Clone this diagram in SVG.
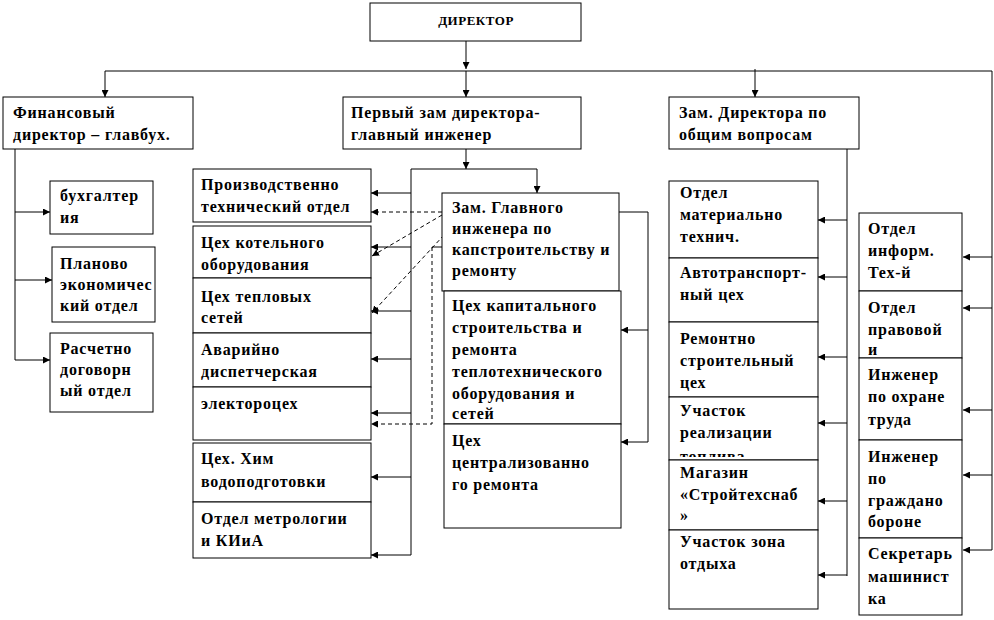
<svg xmlns="http://www.w3.org/2000/svg" width="994" height="620" viewBox="0 0 994 620">
<defs>
<marker id="ar" viewBox="0 0 8 8" refX="8" refY="4" markerWidth="7" markerHeight="7" markerUnits="userSpaceOnUse" orient="auto">
<path d="M0,0 L8,4 L0,8 z" fill="#000"/>
</marker>
<clipPath id="uchclip"><rect x="669" y="397" width="149" height="60"/></clipPath>
<style>
.b{fill:#fff;stroke:#000;stroke-width:1}
.t{font-family:"Liberation Serif","Times New Roman",serif;font-weight:bold;font-size:16px;letter-spacing:0.8px;fill:#000}
.d{font-family:"Liberation Serif","Times New Roman",serif;font-weight:bold;font-size:13px;letter-spacing:0.5px;fill:#000}
.c{fill:none;stroke:#000;stroke-width:1}
.a{fill:none;stroke:#000;stroke-width:1;marker-end:url(#ar)}
.da{fill:none;stroke:#000;stroke-width:1;stroke-dasharray:4,3;marker-end:url(#ar)}
.dl{fill:none;stroke:#000;stroke-width:1;stroke-dasharray:4,3}
</style>
</defs>
<g id="connectors">
<path class="a" d="M466,41V69"/>
<path class="c" d="M105,71H992V550"/>
<path class="a" d="M466,71V97"/>
<path class="a" d="M105,71V97"/>
<path class="a" d="M755,69V97"/>
<path class="a" d="M992,257H963"/>
<path class="a" d="M992,308H963"/>
<path class="a" d="M992,410H963"/>
<path class="a" d="M992,475H963"/>
<path class="a" d="M992,550H963"/>
<path class="c" d="M15,149V360"/>
<path class="a" d="M15,212H50"/>
<path class="a" d="M15,280H52"/>
<path class="a" d="M15,360H50"/>
<path class="a" d="M466,149V169"/>
<path class="c" d="M411,169H537"/>
<path class="a" d="M537,169V193"/>
<path class="c" d="M411,169V555"/>
<path class="a" d="M411,193H371"/>
<path class="a" d="M411,247H371"/>
<path class="a" d="M411,311H371"/>
<path class="a" d="M411,359H371"/>
<path class="a" d="M411,413H371"/>
<path class="a" d="M411,477H371"/>
<path class="a" d="M411,555H371"/>
<path class="da" d="M442,212H371"/>
<path class="da" d="M442,215L372,256"/>
<path class="da" d="M444,235L372,313"/>
<path class="c" d="M442,247H432"/>
<path class="da" d="M432,247V424H371"/>
<path class="c" d="M619,212H648V442"/>
<path class="a" d="M648,330H621"/>
<path class="a" d="M648,442H621"/>
<path class="c" d="M847,149V576"/>
<path class="a" d="M847,220H818"/>
<path class="a" d="M847,277H818"/>
<path class="a" d="M847,357H818"/>
<path class="a" d="M847,423H818"/>
<path class="a" d="M847,501H818"/>
<path class="a" d="M847,575H818"/>
</g>
<g id="director"><rect class="b" x="370" y="3" width="211" height="38"/><text class="d" x="476" y="25" text-anchor="middle">ДИРЕКТОР</text></g>
<g id="fin"><rect class="b" x="3" y="97" width="190" height="52"/><text class="t" x="13" y="118">Финансовый</text><text class="t" x="13" y="140">директор – главбух.</text></g>
<g id="first"><rect class="b" x="343" y="97" width="238" height="52"/><text class="t" x="351" y="118">Первый зам директора-</text><text class="t" x="351" y="140">главный инженер</text></g>
<g id="general"><rect class="b" x="669" y="97" width="190" height="52"/><text class="t" x="679" y="118">Зам. Директора по</text><text class="t" x="679" y="140">общим вопросам</text></g>
<g id="buh"><rect class="b" x="50" y="181" width="103" height="53"/><text class="t" x="60" y="201">бухгалтер</text><text class="t" x="60" y="223">ия</text></g>
<g id="plan"><rect class="b" x="52" y="247" width="103" height="75"/><text class="t" x="60" y="269">Планово</text><text class="t" x="60" y="290">экономичес</text><text class="t" x="60" y="311">кий отдел</text></g>
<g id="rasch"><rect class="b" x="50" y="333" width="103" height="79"/><text class="t" x="60" y="354">Расчетно</text><text class="t" x="60" y="375">договорн</text><text class="t" x="60" y="396">ый отдел</text></g>
<g id="pto"><rect class="b" x="193" y="169" width="178" height="53"/><text class="t" x="201" y="190">Производственно</text><text class="t" x="201" y="212">технический отдел</text></g>
<g id="kotel"><rect class="b" x="193" y="226" width="178" height="52"/><text class="t" x="201" y="248">Цех котельного</text><text class="t" x="201" y="270">оборудования</text></g>
<g id="tepl"><rect class="b" x="193" y="278" width="178" height="55"/><text class="t" x="201" y="302">Цех тепловых</text><text class="t" x="201" y="323">сетей</text></g>
<g id="avar"><rect class="b" x="193" y="333" width="178" height="54"/><text class="t" x="201" y="355">Аварийно</text><text class="t" x="201" y="377">диспетчерская</text></g>
<g id="elec"><rect class="b" x="193" y="387" width="178" height="53"/><text class="t" x="201" y="409">электороцех</text></g>
<g id="him"><rect class="b" x="193" y="443" width="178" height="59"/><text class="t" x="201" y="464">Цех. Хим</text><text class="t" x="201" y="487">водоподготовки</text></g>
<g id="metr"><rect class="b" x="193" y="502" width="178" height="56"/><text class="t" x="201" y="524">Отдел метрологии</text><text class="t" x="201" y="546">и КИиА</text></g>
<g id="zamgl"><rect class="b" x="442" y="193" width="177" height="98"/><text class="t" x="452" y="213">Зам. Главного</text><text class="t" x="452" y="234">инженера по</text><text class="t" x="452" y="255">капстроительству и</text><text class="t" x="452" y="276">ремонту</text></g>
<g id="kap"><rect class="b" x="444" y="291" width="177" height="133"/><text class="t" x="452" y="311">Цех капитального</text><text class="t" x="452" y="333">строительства и</text><text class="t" x="452" y="355">ремонта</text><text class="t" x="452" y="377">теплотехнического</text><text class="t" x="452" y="399">оборудования и</text><text class="t" x="452" y="419">сетей</text></g>
<g id="centr"><rect class="b" x="444" y="424" width="177" height="104"/><text class="t" x="452" y="446">Цех</text><text class="t" x="452" y="468">централизованно</text><text class="t" x="452" y="490">го ремонта</text></g>
<g id="mto"><rect class="b" x="669" y="181" width="149" height="77"/><text class="t" x="680" y="198">Отдел</text><text class="t" x="680" y="220">материально</text><text class="t" x="680" y="242">технич.</text></g>
<g id="avto"><rect class="b" x="669" y="258" width="149" height="64"/><text class="t" x="680" y="278">Автотранспорт-</text><text class="t" x="680" y="300">ный цех</text></g>
<g id="remstr"><rect class="b" x="669" y="322" width="149" height="75"/><text class="t" x="680" y="344">Ремонтно</text><text class="t" x="680" y="366">строительный</text><text class="t" x="680" y="388">цех</text></g>
<g id="uch"><rect class="b" x="669" y="397" width="149" height="63"/><text class="t" x="680" y="416">Участок</text><text class="t" x="680" y="438">реализации</text><g clip-path="url(#uchclip)"><text class="t" x="680" y="462">топлива</text></g></g>
<g id="mag"><rect class="b" x="669" y="460" width="149" height="70"/><text class="t" x="680" y="478">Магазин</text><text class="t" x="680" y="500">«Стройтехснаб</text><text class="t" x="680" y="521">»</text></g>
<g id="otdyh"><rect class="b" x="669" y="530" width="149" height="79"/><text class="t" x="680" y="547">Участок зона</text><text class="t" x="680" y="569">отдыха</text></g>
<g id="inf"><rect class="b" x="859" y="213" width="103" height="78"/><text class="t" x="868" y="234">Отдел</text><text class="t" x="868" y="256">информ.</text><text class="t" x="868" y="278">Тех-й</text></g>
<g id="prav"><rect class="b" x="859" y="291" width="103" height="67"/><text class="t" x="868" y="313">Отдел</text><text class="t" x="868" y="335">правовой</text><text class="t" x="868" y="355">и</text></g>
<g id="ohr"><rect class="b" x="859" y="358" width="103" height="82"/><text class="t" x="868" y="380">Инженер</text><text class="t" x="868" y="402">по охране</text><text class="t" x="868" y="425">труда</text></g>
<g id="go"><rect class="b" x="859" y="440" width="103" height="98"/><text class="t" x="868" y="462">Инженер</text><text class="t" x="868" y="484">по</text><text class="t" x="868" y="506">граждано</text><text class="t" x="868" y="527">бороне</text></g>
<g id="sekr"><rect class="b" x="859" y="538" width="103" height="77"/><text class="t" x="868" y="559">Секретарь</text><text class="t" x="868" y="582">машинист</text><text class="t" x="868" y="604">ка</text></g>
</svg>
